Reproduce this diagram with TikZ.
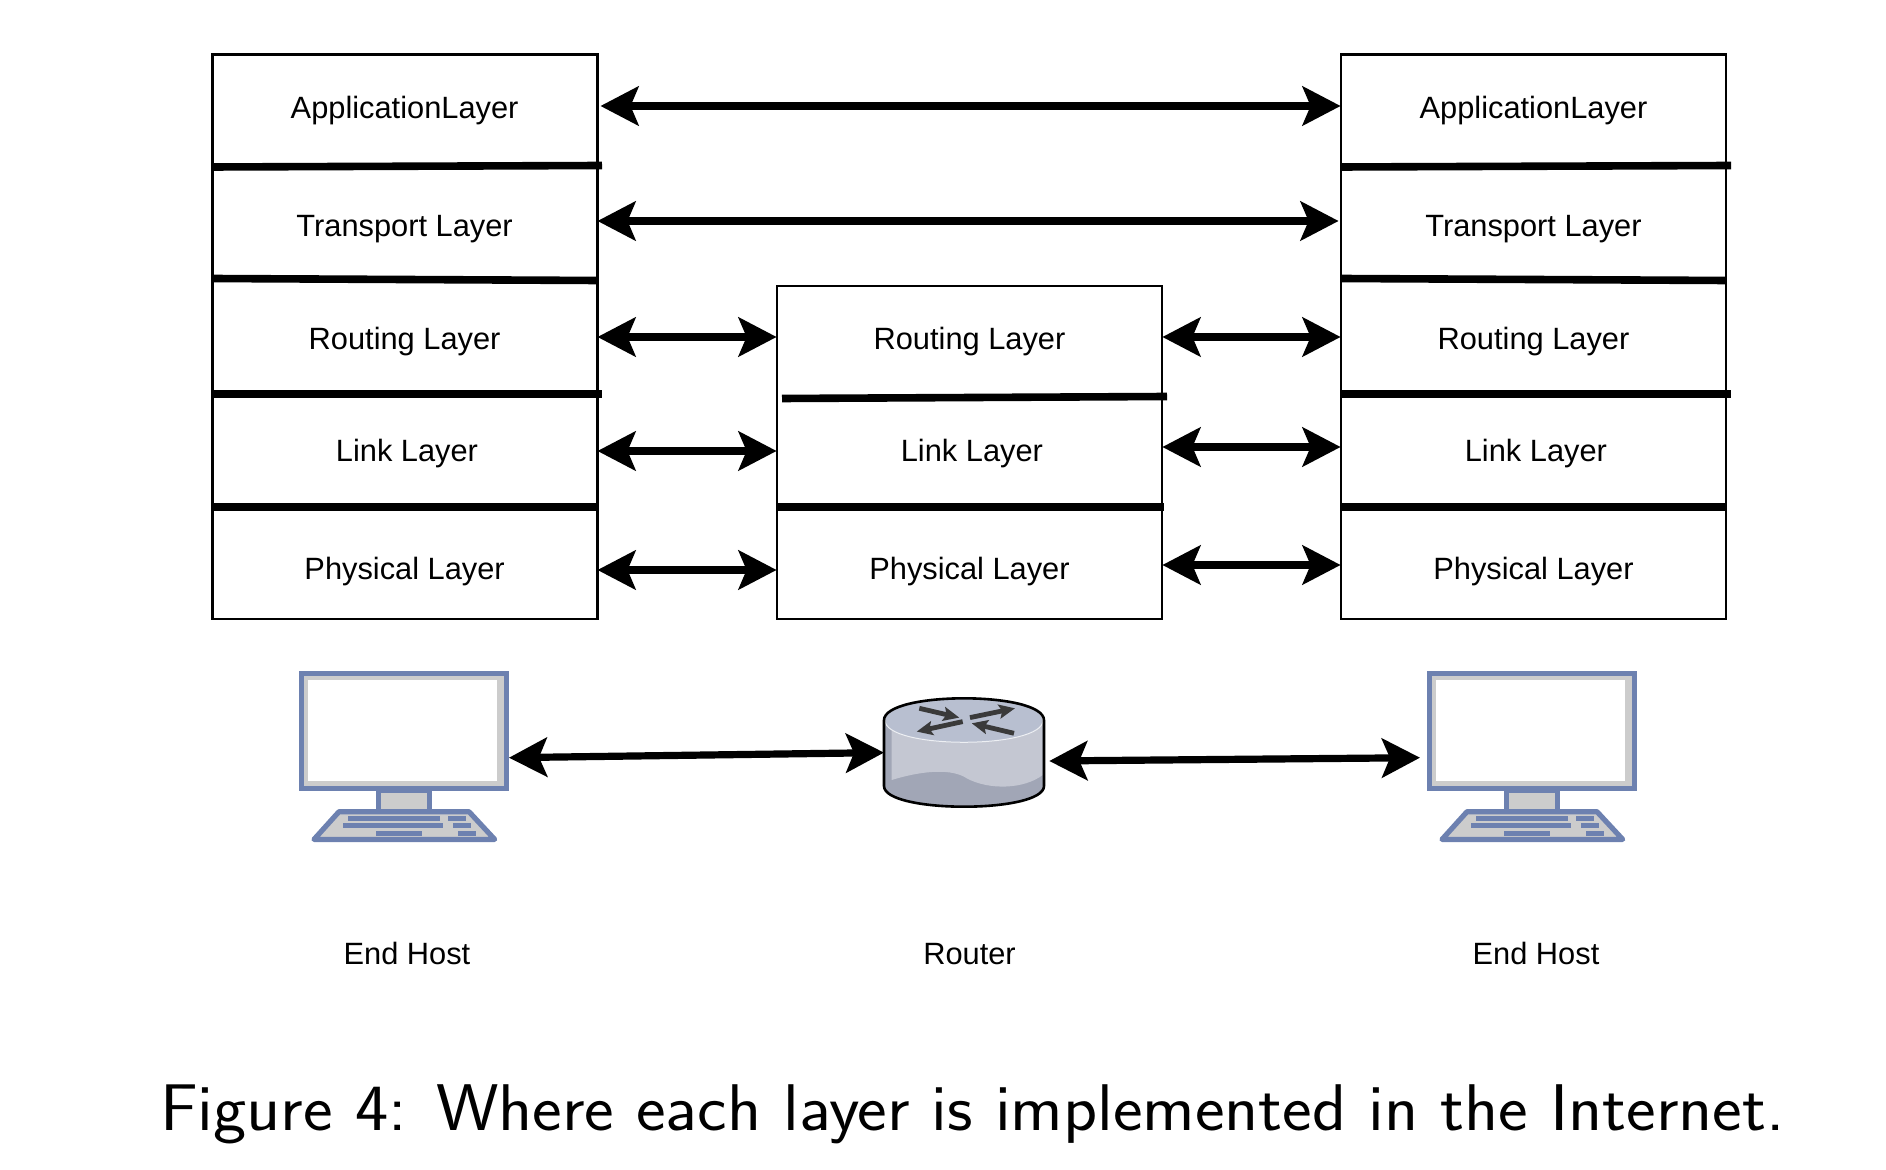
\documentclass[tikz,border=0pt]{standalone}
\usepackage{fontspec}
\setmainfont{Liberation Sans}
\usetikzlibrary{arrows.meta}
\definecolor{hostblue}{HTML}{6D81B0}
\definecolor{hostgray}{HTML}{CCCCCC}
\definecolor{routtop}{HTML}{B8BFD0}
\definecolor{routside}{HTML}{C4C7D2}
\definecolor{routdark}{HTML}{A1A6B6}
\definecolor{routmark}{HTML}{3A3A3A}
\tikzset{
  layer/.style={minimum width=192.5pt,inner sep=0pt,text height=12pt,text depth=0pt,font=\fontsize{15.4}{18}\selectfont},
  devicelabel/.style={inner sep=0pt,text height=11pt,text depth=0pt,font=\fontsize{15.4}{18}\selectfont},
  divider/.style={line width=3.8pt},
  stackbox/.style={draw,line width=1.3pt},
  biarrow/.style={line width=3.6pt,{Stealth[length=19pt,width=19.5pt,inset=4pt]}-{Stealth[length=19pt,width=19.5pt,inset=4pt]}},
  routarrow/.style={routmark,line width=2.4pt,-{Stealth[length=8pt,width=7pt,inset=1.5pt]}},
  endhost/.pic={
    \draw[hostblue,fill=hostgray,line width=2.6pt] (2.5,2.5) rectangle (207.5,117.5);
    \fill[white] (9.3,9.3) rectangle (197.7,110.3);
    \draw[hostblue,fill=hostgray,line width=2.6pt] (79.8,120) rectangle (130.8,141);
    \draw[hostblue,fill=hostgray,line width=2.6pt,line join=round] (40,141) -- (170,141) -- (195.7,168.7) -- (15,168.7) -- cycle;
    \fill[hostblue] (49,145) rectangle (141,150);
    \fill[hostblue] (149,145) rectangle (166.7,150);
    \fill[hostblue] (43.7,152.3) rectangle (143.7,157.7);
    \fill[hostblue] (154.3,152.3) rectangle (171.7,157.7);
    \fill[hostblue] (77.3,160.3) rectangle (123.3,165.3);
    \fill[hostblue] (159.3,160.3) rectangle (177.3,165.3);
    \coordinate (-east) at (210,87);
    \coordinate (-west) at (-7,87);
  },
  router/.pic={
    \fill[routdark] (-80,0) .. controls (-80,-29.3) and (80,-29.3) .. (80,0) -- (80,65.7) .. controls (80,93.3) and (-80,93.3) .. (-80,65.7) -- cycle;
    \fill[routside] (-72.3,10) -- (78.7,3) -- (78.7,54.7) .. controls (60,69) and (25,70) .. (2.7,58) .. controls (-10.7,49) and (-37.3,49) .. (-72.3,59.7) -- cycle;
    \draw[fill=routtop,draw=white!75!routtop,line width=0.5pt] (-79,0) .. controls (-79,-29.3) and (79,-29.3) .. (79,0) .. controls (79,29.3) and (-79,29.3) .. (-79,0) -- cycle;
    \draw[line width=1.3pt] (-80,0) .. controls (-80,-29.3) and (80,-29.3) .. (80,0) -- (80,65.7) .. controls (80,93.3) and (-80,93.3) .. (-80,65.7) -- cycle;
    \draw[routarrow] (-44.7,-12) -- (-4.7,-2.7);
    \draw[routarrow] (6,-2.7) -- (51,-12);
    \draw[routarrow] (-1.3,1.3) -- (-47.3,11.3);
    \draw[routarrow] (50,13) -- (7.7,3);
    \coordinate (-east) at (85.3,40.7);
    \coordinate (-west) at (-80,32.3);
  }
}
\begin{document}
\begin{tikzpicture}[x=0.5pt,y=-0.5pt]
\useasboundingbox (0,0) rectangle (1886,1170);

\draw[stackbox] (212.3,54.8) rectangle (597.3,619);
\draw[stackbox] (777,286) rectangle (1162,619);
\draw[stackbox] (1341,54.8) rectangle (1726,619);

\draw[divider] (212,167) -- (602,165.5);
\draw[divider] (212,278.5) -- (597,280.5);
\draw[divider] (212,394) -- (602,394);
\draw[divider] (212,507) -- (597,507);
\draw[divider] (782,398.5) -- (1167,396.5);
\draw[divider] (777,507) -- (1164,507);
\draw[divider] (1341,167) -- (1731,165.5);
\draw[divider] (1341,278.5) -- (1726,280.5);
\draw[divider] (1341,394) -- (1731,394);
\draw[divider] (1341,507) -- (1726,507);

\node[layer] (appl) at (404.6,107) {ApplicationLayer};
\node[layer] (tranl) at (404.6,225) {Transport Layer};
\node[layer] (routl) at (404.6,338) {Routing Layer};
\node[layer] (linkl) at (404.6,450) {\hspace*{2.4pt}Link Layer};
\node[layer] (physl) at (404.6,568) {Physical Layer};

\node[layer] (routm) at (969.5,338) {Routing Layer};
\node[layer] (linkm) at (969.5,450) {\hspace*{2.4pt}Link Layer};
\node[layer] (physm) at (969.5,568) {Physical Layer};

\node[layer] (appr) at (1533.5,107) {ApplicationLayer};
\node[layer] (tranr) at (1533.5,225) {Transport Layer};
\node[layer] (routr) at (1533.5,338) {Routing Layer};
\node[layer] (linkr) at (1533.5,450) {\hspace*{2.4pt}Link Layer};
\node[layer] (physr) at (1533.5,568) {Physical Layer};

\draw[biarrow] ([xshift=1.5pt,yshift=0.5pt]appl.east) -- ([yshift=0.5pt]appr.west);
\draw[biarrow] ([yshift=2pt]tranl.east) -- ([xshift=-1pt,yshift=2pt]tranr.west);
\draw[biarrow] ([yshift=0.5pt]routl.east) -- ([yshift=0.5pt]routm.west);
\draw[biarrow] ([yshift=0.5pt]routm.east) -- ([yshift=0.5pt]routr.west);
\draw[biarrow] ([yshift=-0.5pt]linkl.east) -- ([yshift=-0.5pt]linkm.west);
\draw[biarrow] ([yshift=1.5pt]linkm.east) -- ([yshift=1.5pt]linkr.west);
\draw[biarrow] ([yshift=-1pt]physl.east) -- ([yshift=-1pt]physm.west);
\draw[biarrow] ([yshift=1.5pt]physm.east) -- ([yshift=1.5pt]physr.west);

\pic (hostl) at (299,670.7) {endhost};
\pic (rout) at (964,720.3) {router};
\pic (hostr) at (1427,670.7) {endhost};

\draw[biarrow] (hostl-east) -- (rout-west);
\draw[biarrow] (rout-east) -- (hostr-west);

\node[devicelabel] (namel) at (407,953) {End Host};
\node[devicelabel] (namem) at (969.5,953) {Router};
\node[devicelabel] (namer) at (1536,953) {End Host};

\node[inner sep=0pt,anchor=base] (caption) at (972.5,1130.7) {\sffamily\fontsize{33}{36}\selectfont\scalebox{1.069}[1]{Figure 4: Where each layer is implemented in the Internet.}};
\end{tikzpicture}
\end{document}
